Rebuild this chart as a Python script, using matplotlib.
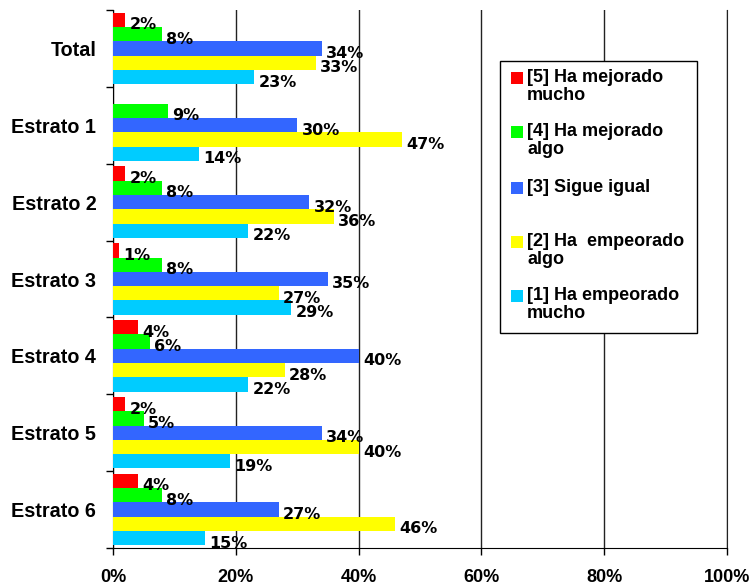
import matplotlib
matplotlib.use("Agg")
import matplotlib.pyplot as plt
from matplotlib.patches import Rectangle
import numpy as np

categories = ['Total', 'Estrato 1', 'Estrato 2', 'Estrato 3', 'Estrato 4', 'Estrato 5', 'Estrato 6']
series_names = ['[5] Ha mejorado\nmucho', '[4] Ha mejorado\nalgo', '[3] Sigue igual',
                '[2] Ha  empeorado\nalgo', '[1] Ha empeorado\nmucho']
colors = ['#FF0000', '#00FF00', '#3366FF', '#FFFF00', '#00CCFF']

mejorado_mucho = [2, 0, 2, 1, 4, 2, 4]
mejorado_algo = [8, 9, 8, 8, 6, 5, 8]
sigue_igual = [34, 30, 32, 35, 40, 34, 27]
empeorado_algo = [33, 47, 36, 27, 28, 40, 46]
empeorado_mucho = [23, 14, 22, 29, 22, 19, 15]
series = [mejorado_mucho, mejorado_algo, sigue_igual, empeorado_algo, empeorado_mucho]

fig = plt.figure(figsize=(7.53, 5.86), dpi=100)
ax = fig.add_axes([113/753, 1-548/586, 614/753, 538/586])

n = len(categories)
bh = 0.186
centers = n - 0.5 - np.arange(n)  # top to bottom
for k, vals in enumerate(series):
    y = centers + (2 - k) * bh
    ax.barh(y, vals, height=bh, color=colors[k], edgecolor='none', zorder=3)
    for yi, v in zip(y, vals):
        if v == 0:
            continue
        ax.text(v + 0.7, yi - 0.065, f'{v}%', va='center', ha='left',
                fontsize=11.5, fontweight='bold', family='DejaVu Sans', zorder=4)

ax.set_xlim(0, 100)
ax.set_ylim(0, n)
ax.set_xticks(np.arange(0, 101, 20))
ax.set_xticklabels([f'{t}%' for t in range(0, 101, 20)], fontsize=13,
                   fontweight='bold', family='Liberation Sans')
ax.tick_params(axis='x', length=5, width=1, pad=10, color='black')
ax.grid(axis='x', color='#222222', linewidth=1, zorder=0)

ax.set_yticks(np.arange(0, n + 1))
ax.set_yticklabels([])
ax.set_yticks(centers, minor=True)
ax.set_yticklabels(categories, minor=True, fontsize=14.2, fontweight='bold',
                   family='Liberation Sans')
ax.tick_params(axis='y', which='major', length=5, width=1, direction='out')
ax.tick_params(axis='y', which='minor', length=0, pad=12)

ax.spines['top'].set_visible(False)
ax.spines['right'].set_color('#222222')
ax.spines['left'].set_color('black')
ax.spines['bottom'].set_color('black')

# legend drawn in figure pixels
W, H = 753, 586
fig.patches.append(Rectangle((500/W, 1-333/H), 197/W, 272/H, transform=fig.transFigure,
                             facecolor='white', edgecolor='black', linewidth=1, zorder=5))
entry_tops = [69, 123, 179, 233, 287]
for name, c, top in zip(series_names, colors, entry_tops):
    fig.patches.append(Rectangle((511/W, 1-(top+15)/H), 12/W, 12/H, transform=fig.transFigure,
                                 facecolor=c, edgecolor='none', zorder=6))
    fig.text(527/W, 1-top/H, name, va='top', ha='left', fontsize=13, fontweight='bold',
             family='Liberation Sans', linespacing=1.1, zorder=7)

fig.savefig('out.png', dpi=100)
